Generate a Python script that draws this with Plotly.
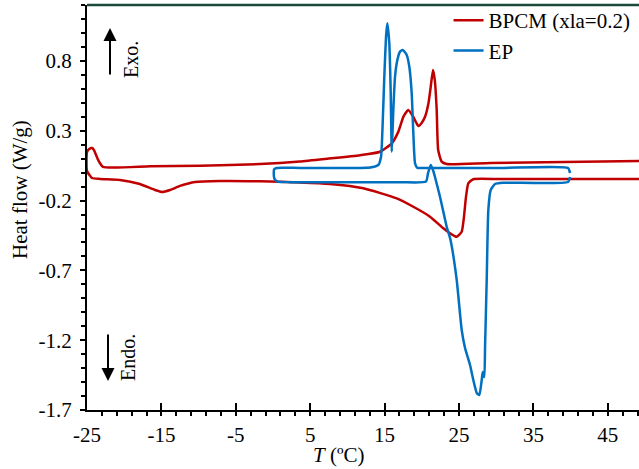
import plotly.graph_objects as go

# ---- data ----
bpcm_T = [50.0, 29.2, 23.35, 22.67, 22.2, 22.0, 21.75, 21.5, 21.2, 20.9, 20.43, 19.98, 19.53,
          18.86, 18.19, 17.52, 16.85, 15.96, 14.38, 11.7, 7.3, 3.6, -1.75, -9.8, -16.5,
          -22.85, -23.5, -24.06, -24.3, -24.7, -25.0,
          -25.0, -24.33, -23.25, -20.56, -17.9, -15.86, -14.92, -13.84, -12.5, -10.48,
          -7.12, -1.75, 3.63, 7.66, 12.14, 16.63, 18.86, 21.1, 22.89, 23.79, 24.69, 25.36, 25.67,
          25.94, 26.25, 26.92, 30.5, 50.0]
bpcm_hf = [0.085, 0.069, 0.062, 0.079, 0.162, 0.449, 0.66, 0.735, 0.616, 0.499, 0.40, 0.356, 0.334,
           0.40, 0.449, 0.40, 0.294, 0.21, 0.15, 0.125, 0.10, 0.08, 0.062, 0.05, 0.046,
           0.041, 0.091, 0.162, 0.177, 0.17, 0.148,
           0.012, -0.038, -0.045, -0.052, -0.081, -0.124, -0.138, -0.124, -0.095, -0.067,
           -0.06, -0.062, -0.07, -0.081, -0.112, -0.184, -0.244, -0.315, -0.398, -0.434, -0.459, -0.423, -0.315,
           -0.172, -0.076, -0.047, -0.046, -0.045]

ep_T = [39.92, 39.65, 30.5, 19.76, 19.4, 19.09, 18.86, 18.64, 18.32, 17.97, 17.43, 17.07, 16.71,
        16.4, 16.17, 15.96, 15.82, 15.63, 15.36, 15.19, 14.96, 14.74, 14.52, 14.15, 13.04,
        3.63, 0.5, 0.15, 0.1, 0.2, 0.6,
        2.28, 17.07, 20.56, 20.83, 21.2, 21.5, 21.77, 22.45, 23.35, 23.85, 24.69, 25.36, 25.81,
        26.48, 26.92, 27.38, 27.73, 28.05, 28.19, 28.4, 28.5, 28.72, 28.94, 29.26, 29.84,
        30.91, 39.65, 39.92]
ep_hf = [-0.002, 0.034, 0.034, 0.034, 0.034, 0.067, 0.284, 0.569, 0.759, 0.843, 0.879, 0.867, 0.807,
         0.688, 0.449, 0.150, 0.569, 0.927, 1.07, 0.974, 0.688, 0.354, 0.114, 0.055, 0.037,
         0.034, 0.034, 0.025, 0.0, -0.045, -0.064,
         -0.068, -0.068, -0.064, -0.005, 0.055, 0.019, -0.031, -0.174, -0.389, -0.48, -0.769, -1.127, -1.256,
         -1.378, -1.485, -1.578, -1.593, -1.485, -1.428, -1.464, -1.249, -0.769, -0.267, -0.124, -0.081,
         -0.072, -0.067, -0.031]

series_names = ["BPCM (xla=0.2)", "EP"]
series_colors = ["#c00000", "#0070c0"]

xtick_vals = [-25, -15, -5, 5, 15, 25, 35, 45]
xtick_text = ["-25", "-15", "-5", "5", "15", "25", "35", "45"]
ytick_vals = [-1.7, -1.2, -0.7, -0.2, 0.3, 0.8]
ytick_text = ["-1.7", "-1.2", "-0.7", "-0.2", "0.3", "0.8"]

FONT = "Liberation Serif, Times New Roman, serif"

fig = go.Figure()
fig.add_trace(go.Scatter(x=bpcm_T, y=bpcm_hf, mode="lines", name=series_names[0],
                         line=dict(color=series_colors[0], width=2.5, shape="spline", smoothing=0.5)))
fig.add_trace(go.Scatter(x=ep_T, y=ep_hf, mode="lines", name=series_names[1],
                         line=dict(color=series_colors[1], width=2.5, shape="spline", smoothing=0.5)))

fig.update_layout(
    width=639, height=469,
    margin=dict(l=87, r=0, t=5, b=59),
    paper_bgcolor="white", plot_bgcolor="white",
    font=dict(family=FONT, size=21, color="black"),
    showlegend=True,
    legend=dict(x=0.655, y=1.013, xanchor="left", yanchor="top", bgcolor="rgba(0,0,0,0)",
                font=dict(family=FONT, size=21), itemwidth=30, tracegroupgap=0),
)
fig.update_xaxes(
    range=[-25, 49.19], showgrid=False, zeroline=False,
    showline=True, linecolor="black", linewidth=2,
    tickmode="array", tickvals=xtick_vals, ticktext=xtick_text,
    ticks="inside", ticklen=7, tickwidth=2, tickcolor="black",
    ticklabelstandoff=5,
    minor=dict(dtick=2, tick0=-25, ticks="outside", ticklen=4, tickwidth=2, tickcolor="black"),
    tickfont=dict(family=FONT, size=21),
)
fig.update_yaxes(
    range=[-1.7, 1.201], showgrid=False, zeroline=False,
    showline=True, linecolor="black", linewidth=2,
    tickmode="array", tickvals=ytick_vals, ticktext=ytick_text,
    ticks="outside", ticklen=5, tickwidth=2, tickcolor="black",
    ticklabelstandoff=4,
    minor=dict(dtick=0.1, tick0=-1.7, ticks="outside", ticklen=4, tickwidth=2, tickcolor="black"),
    tickfont=dict(family=FONT, size=21),
)

# top border
fig.add_shape(type="line", xref="paper", yref="paper", x0=0, x1=1, y0=1, y1=1,
              line=dict(color="#1b4a3a", width=2.5))

def px_x(p):
    return (p - 87) / 552

def px_y(p):
    return (410 - p) / 405

# axis titles
fig.add_annotation(xref="paper", yref="paper", x=px_x(338), y=px_y(455),
                   text="<i>T</i> (ºC)", showarrow=False, font=dict(family=FONT, size=21),
                   xanchor="center", yanchor="middle")
fig.add_annotation(xref="paper", yref="paper", x=px_x(20), y=px_y(190),
                   text="Heat flow (W/g)", textangle=-90, showarrow=False,
                   font=dict(family=FONT, size=21), xanchor="center", yanchor="middle")

# Exo / Endo arrows
fig.add_annotation(xref="paper", yref="paper", x=px_x(110), y=px_y(28), ax=0, ay=48,
                   axref="pixel", ayref="pixel", text="", showarrow=True,
                   arrowhead=2, arrowsize=1.3, arrowwidth=2, arrowcolor="black")
fig.add_annotation(xref="paper", yref="paper", x=px_x(131), y=px_y(60), text="Exo.", textangle=-90,
                   showarrow=False, font=dict(family=FONT, size=20), xanchor="center", yanchor="middle")
fig.add_annotation(xref="paper", yref="paper", x=px_x(108), y=px_y(381), ax=0, ay=-48,
                   axref="pixel", ayref="pixel", text="", showarrow=True,
                   arrowhead=2, arrowsize=1.3, arrowwidth=2, arrowcolor="black")
fig.add_annotation(xref="paper", yref="paper", x=px_x(128), y=px_y(358), text="Endo.", textangle=-90,
                   showarrow=False, font=dict(family=FONT, size=20), xanchor="center", yanchor="middle")

fig.write_html("out.html", config={"displayModeBar": False},
               post_script="document.body.style.margin='0';document.body.style.overflow='hidden';")
